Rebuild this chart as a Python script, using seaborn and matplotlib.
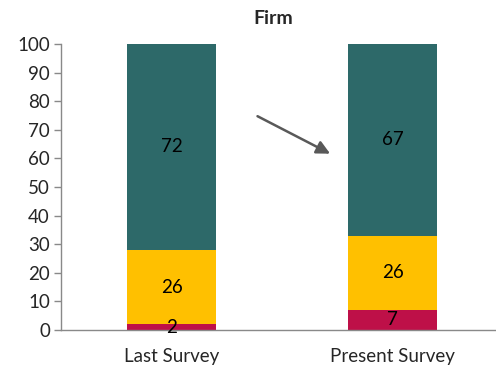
import matplotlib
matplotlib.use("Agg")
import matplotlib.pyplot as plt
import seaborn as sns
import pandas as pd
import numpy as np

categories = ["Last Survey", "Present Survey"]
bottom_vals = [2, 7]
middle_vals = [26, 26]
top_vals = [72, 67]
yticks = list(range(0, 101, 10))

sns.set_style("white")
plt.rcParams['font.family'] = ['Lato', 'DejaVu Sans']

fig = plt.figure(figsize=(4.96, 3.69), dpi=100)
ax = fig.add_axes([61/496, 1-330/369, 442/496, 286/369])

b = np.array(bottom_vals)
m = np.array(middle_vals)
t = np.array(top_vals)
df = pd.DataFrame({"cat": categories, "c1": b, "c2": b + m, "c3": b + m + t})

sns.barplot(data=df, x="cat", y="c3", color="#2D6969", saturation=1, width=0.4, linewidth=0, ax=ax)
sns.barplot(data=df, x="cat", y="c2", color="#FFC000", saturation=1, width=0.4, linewidth=0, ax=ax)
sns.barplot(data=df, x="cat", y="c1", color="#BE1048", saturation=1, width=0.4, linewidth=0, ax=ax)

fs = 13.5
for i in range(len(categories)):
    ax.text(i, b[i] / 2, str(b[i]), ha="center", va="center", fontsize=fs, color="black")
    ax.text(i, b[i] + m[i] / 2, str(m[i]), ha="center", va="center", fontsize=fs, color="black")
    ax.text(i, b[i] + m[i] + t[i] / 2, str(t[i]), ha="center", va="center", fontsize=fs, color="black")

ax.set_xlim(-0.5, 1.5)
ax.set_ylim(0, 100)
ax.set_yticks(yticks)
ax.set_yticklabels([str(v) for v in yticks], fontsize=fs)
ax.set_xlabel("")
ax.set_ylabel("")
ax.set_xticks([0, 1])
ax.set_xticklabels(categories, fontsize=fs)
ax.tick_params(axis="x", length=0, pad=13)
ax.set_xticks([-0.5, 0.5, 1.5], minor=True)
ax.tick_params(axis="x", which="minor", length=5, color="#898989", direction="out", width=1)
ax.tick_params(axis="y", length=5, color="#898989", direction="out", width=1, pad=3, left=True)

for s in ["top", "right"]:
    ax.spines[s].set_visible(False)
for s in ["left", "bottom"]:
    ax.spines[s].set_color("#898989")
    ax.spines[s].set_linewidth(1)

ax.annotate("", xy=(0.729, 61.2), xytext=(0.378, 75.2),
            arrowprops=dict(arrowstyle="-|>,head_length=0.8,head_width=0.4", color="#595959", lw=1.8))

fig.text(273/496, 1-18/369, "Firm", ha="center", va="center", fontsize=14, fontweight="bold")

fig.savefig("out.png", dpi=100)
